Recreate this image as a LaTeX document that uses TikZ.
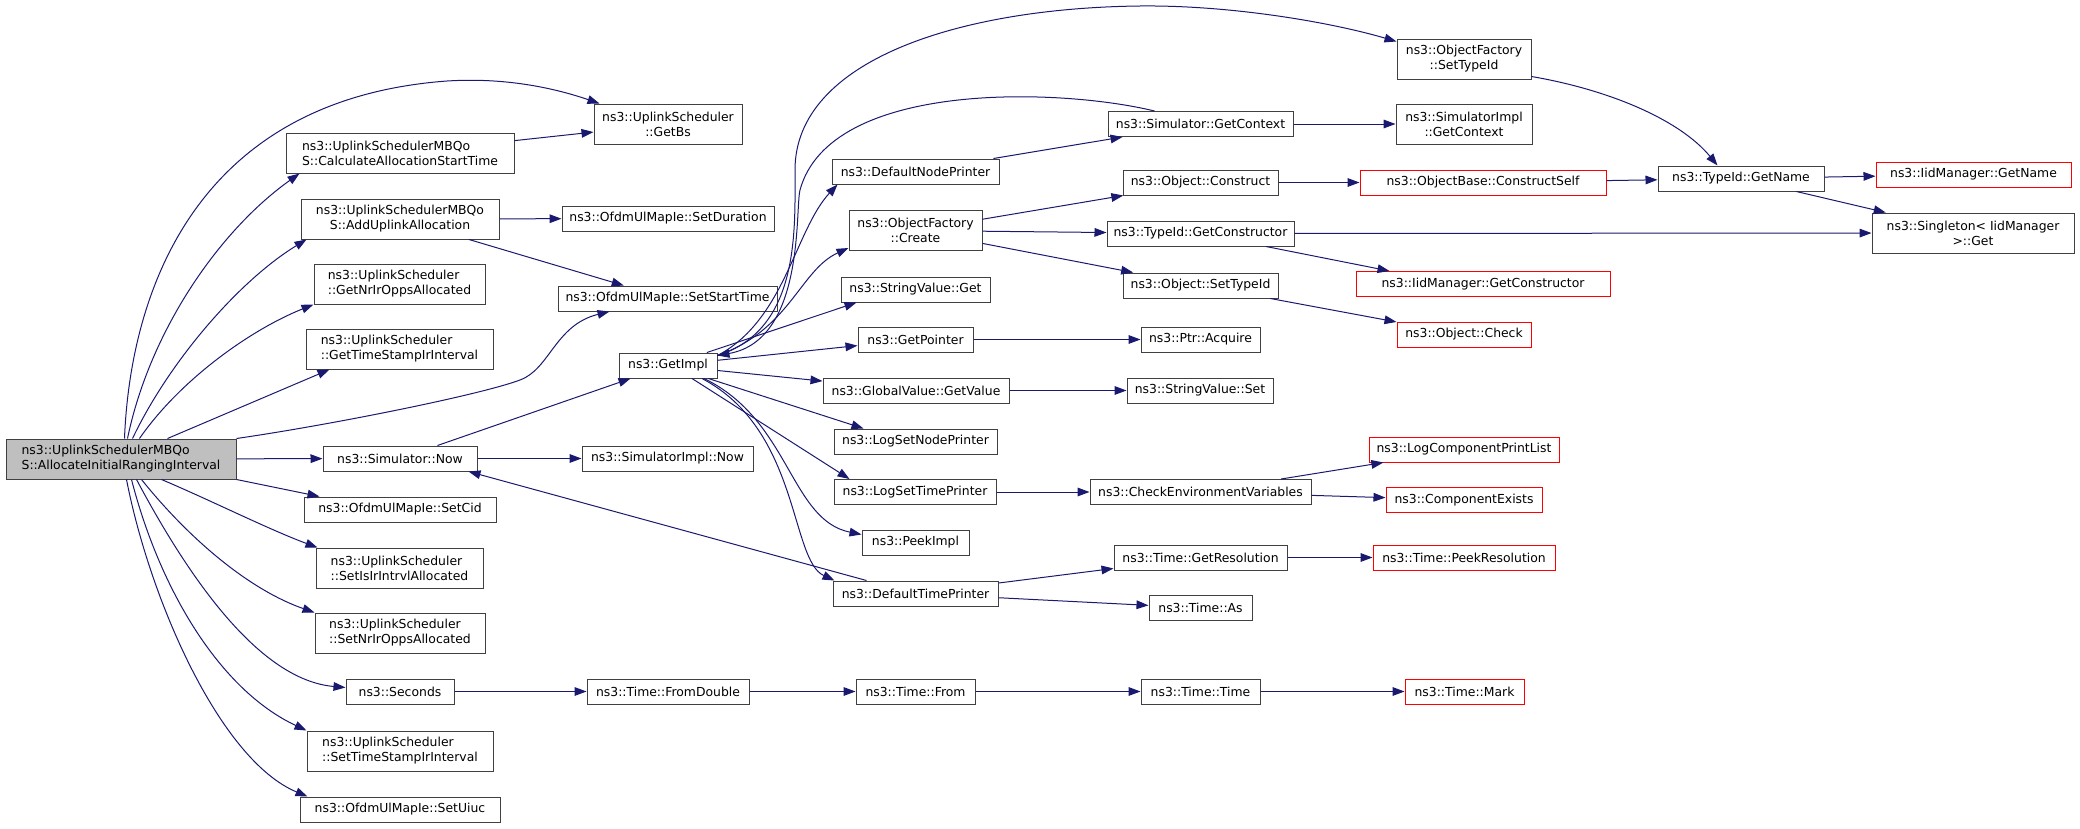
\documentclass[tikz,border=0pt]{standalone}
\usepackage{fontspec}
\setmainfont{DejaVu Sans}
\usepackage{tikz}
\usetikzlibrary{shapes,arrows,arrows.meta,calc}
\definecolor{edgeblue}{RGB}{25,25,112}
\definecolor{boxgray}{RGB}{64,64,64}
\definecolor{rootfill}{RGB}{191,191,191}
\tikzstyle{fnbox} = [rectangle,draw=boxgray,fill=white,line width=0.75pt,minimum height=18.75pt,inner xsep=2pt,inner ysep=1pt]
\tikzstyle{fnred} = [fnbox,draw=red]
\tikzstyle{twoline} = [minimum height=30pt]
\tikzstyle{fnroot} = [fnbox,twoline,fill=rootfill]
\tikzstyle{callarrow} = [draw=edgeblue,line width=0.75pt,-{Triangle[length=9pt,width=6.5pt]}]

\begin{document}
\begin{tikzpicture}[x=0.75pt,y=-0.75pt,font=\fontsize{9.3}{11.25}\selectfont]
	\useasboundingbox (0,0) rectangle (2080,828);

	%root
	\node (alloc) [fnroot,minimum width=172.5pt,align=left] at (121,459) {ns3::UplinkSchedulerMBQo\\S::AllocateInitialRangingInterval};

	%first column
	\node (calcst) [fnbox,twoline,minimum width=171pt,align=left] at (400,153) {ns3::UplinkSchedulerMBQo\\S::CalculateAllocationStartTime};
	\node (addul) [fnbox,twoline,minimum width=148.5pt,align=center] at (400,219) {ns3::UplinkSchedulerMBQo\\S::AddUplinkAllocation};
	\node (getnr) [fnbox,twoline,minimum width=128.25pt,align=left] at (399.5,284) {ns3::UplinkScheduler\\::GetNrIrOppsAllocated};
	\node (getts) [fnbox,twoline,minimum width=140.25pt,align=left] at (399.5,349) {ns3::UplinkScheduler\\::GetTimeStampIrInterval};
	\node (simnow) [fnbox,minimum width=115.5pt] at (400,458.5) {ns3::Simulator::Now};
	\node (setcid) [fnbox,minimum width=144pt] at (400,509.5) {ns3::OfdmUlMapIe::SetCid};
	\node (setisir) [fnbox,twoline,minimum width=125.25pt,align=left] at (399.5,568) {ns3::UplinkScheduler\\::SetIsIrIntrvlAllocated};
	\node (setnr) [fnbox,twoline,minimum width=127.5pt,align=left] at (400,633) {ns3::UplinkScheduler\\::SetNrIrOppsAllocated};
	\node (seconds) [fnbox,minimum width=81pt] at (400,691.5) {ns3::Seconds};
	\node (setts) [fnbox,twoline,minimum width=139.5pt,align=left] at (400,751) {ns3::UplinkScheduler\\::SetTimeStampIrInterval};
	\node (setuiuc) [fnbox,minimum width=150pt] at (400,809.5) {ns3::OfdmUlMapIe::SetUiuc};

	%second column
	\node (getbs) [fnbox,twoline,minimum width=111pt,align=center] at (668,124) {ns3::UplinkScheduler\\::GetBs};
	\node (setdur) [fnbox,minimum width=159pt] at (668,218.5) {ns3::OfdmUlMapIe::SetDuration};
	\node (setstart) [fnbox,minimum width=164.25pt] at (667.5,298.5) {ns3::OfdmUlMapIe::SetStartTime};
	\node (getimpl) [fnbox,minimum width=73.5pt] at (668,365.5) {ns3::GetImpl};
	\node (implnow) [fnbox,minimum width=128.25pt] at (667.5,458.5) {ns3::SimulatorImpl::Now};
	\node (fromdbl) [fnbox,minimum width=121.5pt] at (668,691.5) {ns3::Time::FromDouble};

	%third column
	\node (nodeprn) [fnbox,minimum width=125.25pt] at (915.5,171.5) {ns3::DefaultNodePrinter};
	\node (create) [fnbox,twoline,minimum width=99.75pt,align=center] at (915.5,230.5) {ns3::ObjectFactory\\::Create};
	\node (svget) [fnbox,minimum width=111.75pt] at (915.5,289.5) {ns3::StringValue::Get};
	\node (getptr) [fnbox,minimum width=86.25pt] at (915.5,339.5) {ns3::GetPointer};
	\node (gvget) [fnbox,minimum width=139.5pt] at (916,390.5) {ns3::GlobalValue::GetValue};
	\node (lognode) [fnbox,minimum width=122.25pt] at (915.5,441.5) {ns3::LogSetNodePrinter};
	\node (logtime) [fnbox,minimum width=121.5pt] at (915,492) {ns3::LogSetTimePrinter};
	\node (peekimpl) [fnbox,minimum width=80.25pt] at (915.5,542.5) {ns3::PeekImpl};
	\node (timeprn) [fnbox,minimum width=123.75pt] at (915.5,593.5) {ns3::DefaultTimePrinter};
	\node (tfrom) [fnbox,minimum width=89.25pt] at (915.5,691.5) {ns3::Time::From};

	%fourth column
	\node (getctx) [fnbox,minimum width=138.75pt] at (1200.5,124) {ns3::Simulator::GetContext};
	\node (construct) [fnbox,minimum width=116.25pt] at (1200.5,182.5) {ns3::Object::Construct};
	\node (getctor) [fnbox,minimum width=140.25pt] at (1200.5,233.5) {ns3::TypeId::GetConstructor};
	\node (objsettid) [fnbox,minimum width=116.25pt] at (1200.5,285.5) {ns3::Object::SetTypeId};
	\node (acquire) [fnbox,minimum width=89.25pt] at (1200.5,339.5) {ns3::Ptr::Acquire};
	\node (svset) [fnbox,minimum width=109.5pt] at (1200,390.5) {ns3::StringValue::Set};
	\node (checkenv) [fnbox,minimum width=165.75pt] at (1200.5,492) {ns3::CheckEnvironmentVariables};
	\node (getres) [fnbox,minimum width=129.75pt] at (1200.5,557.5) {ns3::Time::GetResolution};
	\node (timeas) [fnbox,minimum width=77.25pt] at (1200.5,608) {ns3::Time::As};
	\node (ttime) [fnbox,minimum width=89.25pt] at (1200.5,691.5) {ns3::Time::Time};

	%fifth column
	\node (ofsettid) [fnbox,twoline,minimum width=100.5pt,align=center] at (1464,59) {ns3::ObjectFactory\\::SetTypeId};
	\node (implctx) [fnbox,twoline,minimum width=102pt,align=center] at (1464,124) {ns3::SimulatorImpl\\::GetContext};
	\node (cself) [fnred,minimum width=184.5pt] at (1483,182.5) {ns3::ObjectBase::ConstructSelf};
	\node (iidctor) [fnred,minimum width=190.5pt] at (1483,284) {ns3::IidManager::GetConstructor};
	\node (check) [fnred,minimum width=100.5pt] at (1464,334.5) {ns3::Object::Check};
	\node (printlist) [fnred,minimum width=142.5pt] at (1464,449.5) {ns3::LogComponentPrintList};
	\node (compex) [fnred,minimum width=117pt] at (1464,500) {ns3::ComponentExists};
	\node (peekres) [fnred,minimum width=136.5pt] at (1464,557.5) {ns3::Time::PeekResolution};
	\node (mark) [fnred,minimum width=89.25pt] at (1464.5,691.5) {ns3::Time::Mark};

	%last columns
	\node (getname) [fnbox,minimum width=124.5pt] at (1741,178.5) {ns3::TypeId::GetName};
	\node (iidname) [fnred,minimum width=146.25pt] at (1973.5,174.5) {ns3::IidManager::GetName};
	\node (single) [fnbox,twoline,minimum width=151.5pt,align=center] at (1973,233) {ns3::Singleton< IidManager\\>::Get};

	%calls of the root
	\draw [callarrow] ($(alloc.north west)+(119,0)$) .. controls (130,300) and (190,100) .. (447,81) .. controls (510,77) and (560,90) .. ($(getbs.north west)+(6,0)$);
	\draw [callarrow] ($(alloc.north west)+(122,0)$) .. controls (150,330) and (220,230) .. ($(calcst.south west)+(14,0)$);
	\draw [callarrow] ($(alloc.north west)+(127,0)$) .. controls (170,360) and (240,280) .. ($(addul.south west)+(6,0)$);
	\draw [callarrow] ($(alloc.north west)+(134,0)$) .. controls (180,380) and (250,330) .. (getnr.south west);
	\draw [callarrow] ($(alloc.north west)+(162,0)$) -- ($(getts.south west)+(24,0)$);
	\draw [callarrow] (alloc.north east) .. controls (330,425) and (480,395) .. (520,380) .. controls (550,369) and (555,325) .. ($(setstart.south west)+(52,0)$);
	\draw [callarrow] (alloc) -- (simnow);
	\draw [callarrow] (alloc.south east) -- ($(setcid.north west)+(16,0)$);
	\draw [callarrow] ($(alloc.south west)+(156,0)$) .. controls (210,500) and (270,530) .. ($(setisir.north west)+(2,0)$);
	\draw [callarrow] ($(alloc.south west)+(136,0)$) .. controls (190,540) and (250,590) .. (setnr.north west);
	\draw [callarrow] ($(alloc.south west)+(131,0)$) .. controls (190,580) and (260,680) .. ($(seconds.west)+(0,-4)$);
	\draw [callarrow] ($(alloc.south west)+(126,0)$) .. controls (160,590) and (220,690) .. (setts.north west);
	\draw [callarrow] ($(alloc.south west)+(121,0)$) .. controls (150,600) and (220,760) .. ($(setuiuc.north west)+(8,0)$);

	\draw [callarrow] (calcst) -- (getbs);
	\draw [callarrow] (addul) -- (setdur);
	\draw [callarrow] (addul) -- (setstart);
	\draw [callarrow] (simnow) -- (getimpl);
	\draw [callarrow] (simnow) -- (implnow);

	%GetImpl
	\draw [callarrow] ($(getimpl.north east)+(0,3)$) .. controls (800,330) and (795,230) .. (795,170) .. controls (795,60) and (960,8) .. (1140,6) .. controls (1230,5) and (1330,22) .. ($(ofsettid.north west)+(0,3)$);
	\draw [callarrow] ($(getimpl.north east)+(0,3)$) .. controls (785,320) and (795,230) .. ($(nodeprn.south west)+(6,0)$);
	\draw [callarrow] ($(getimpl.north east)+(0,3)$) .. controls (790,330) and (800,270) .. ($(create.south west)+(0,-3)$);
	\draw [callarrow] (getimpl) -- ($(svget.south west)+(16,0)$);
	\draw [callarrow] (getimpl) -- (getptr);
	\draw [callarrow] (getimpl) -- (gvget);
	\draw [callarrow] (getimpl) -- ($(lognode.north west)+(30,0)$);
	\draw [callarrow] ($(getimpl.south)+(24,0)$) -- ($(logtime.north west)+(16,0)$);
	\draw [callarrow] ($(getimpl.south)+(36,0)$) .. controls (790,420) and (790,520) .. ($(peekimpl.north west)+(0,5)$);
	\draw [callarrow] ($(getimpl.south)+(34,0)$) .. controls (800,430) and (790,560) .. ($(timeprn.north west)+(2,0)$);
	\draw [callarrow] ($(getctx.north west)+(47,0)$) .. controls (1060,88) and (830,80) .. (800,190) .. controls (795,210) and (805,340) .. ($(getimpl.north east)+(0,3)$);

	\draw [callarrow] (nodeprn) -- (getctx);
	\draw [callarrow] (getctx) -- (implctx);
	\draw [callarrow] (create) -- (construct);
	\draw [callarrow] (create) -- (getctor);
	\draw [callarrow] (create) -- (objsettid);
	\draw [callarrow] (construct) -- (cself);
	\draw [callarrow] (cself) -- (getname);
	\draw [callarrow] ($(ofsettid.south east)+(0,-3)$) .. controls (1610,90) and (1680,120) .. ($(getname.north west)+(60,0)$);
	\draw [callarrow] (getname) -- (iidname);
	\draw [callarrow] (getname) -- (single);
	\draw [callarrow] (getctor) -- (single);
	\draw [callarrow] (getctor) -- ($(iidctor.north west)+(34,0)$);
	\draw [callarrow] (objsettid) -- (check);
	\draw [callarrow] (getptr) -- (acquire);
	\draw [callarrow] (gvget) -- (svset);
	\draw [callarrow] (logtime) -- (checkenv);
	\draw [callarrow] (checkenv) -- (printlist);
	\draw [callarrow] (checkenv) -- (compex);

	%time printer
	\draw [callarrow] ($(timeprn.north west)+(34,0)$) -- ($(simnow.south east)+(-9,0)$);
	\draw [callarrow] (timeprn) -- (getres);
	\draw [callarrow] (timeprn) -- (timeas);
	\draw [callarrow] (getres) -- (peekres);

	%Seconds chain
	\draw [callarrow] (seconds) -- (fromdbl);
	\draw [callarrow] (fromdbl) -- (tfrom);
	\draw [callarrow] (tfrom) -- (ttime);
	\draw [callarrow] (ttime) -- (mark);
\end{tikzpicture}
\end{document}
